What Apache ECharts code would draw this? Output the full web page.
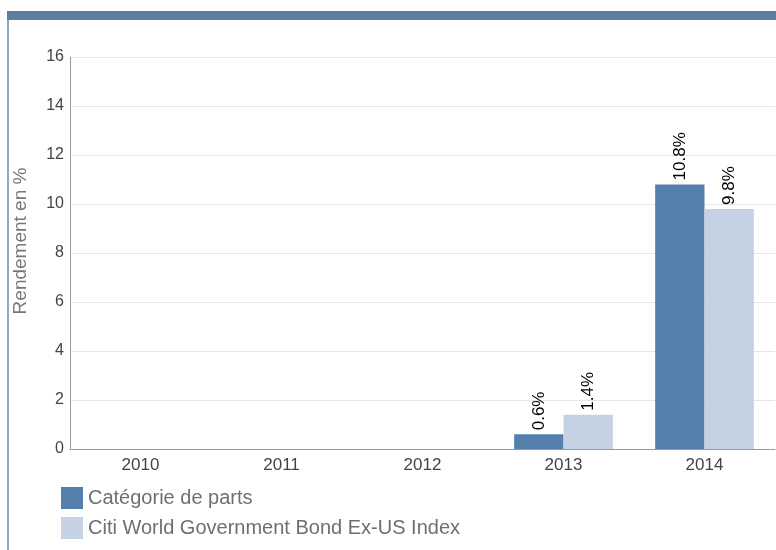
<!DOCTYPE html>
<html>
<head>
<meta charset="utf-8">
<script src="https://cdn.jsdelivr.net/npm/echarts@6/dist/echarts.min.js"></script>
<style>
  html, body { margin: 0; padding: 0; background: #fff; }
  #chart { width: 776px; height: 550px; }
</style>
</head>
<body>
<div id="chart"></div>
<script>
// données du graphique
var years = ['2010', '2011', '2012', '2013', '2014'];
var fundValues = ['-', '-', '-', 0.6, 10.8];
var indexValues = ['-', '-', '-', 1.4, 9.8];
var seriesNames = ['Catégorie de parts', 'Citi World Government Bond Ex-US Index'];

var font = '"Liberation Sans", Arial, sans-serif';

var chart = echarts.init(document.getElementById('chart'));

var barLabel = {
  show: true,
  position: 'top',
  rotate: 90,
  align: 'left',
  verticalAlign: 'middle',
  distance: 4,
  color: '#000',
  fontSize: 17,
  fontFamily: font,
  formatter: function (p) { return p.value.toFixed(1) + '%'; }
};

var option = {
  backgroundColor: '#fff',
  animation: false,
  graphic: [
    { type: 'rect', shape: { x: 7, y: 11, width: 769, height: 9 }, style: { fill: '#5b7fa3' } },
    { type: 'rect', shape: { x: 7, y: 20, width: 2, height: 530 }, style: { fill: '#8fabc4' } }
  ],
  grid: { left: 70, right: 1, top: 57, bottom: 101, outerBoundsMode: 'none' },
  legend: {
    orient: 'vertical',
    left: 61,
    top: 487,
    padding: 0,
    itemWidth: 22,
    itemHeight: 22,
    itemGap: 8,
    icon: 'rect',
    textStyle: { color: '#6b7075', fontSize: 20, fontFamily: font },
    data: seriesNames
  },
  xAxis: {
    type: 'category',
    data: years,
    axisLine: { lineStyle: { color: '#999' } },
    axisTick: { show: false },
    axisLabel: { color: '#444', fontSize: 17, fontFamily: font, margin: 8 }
  },
  yAxis: {
    type: 'value',
    min: 0,
    max: 16,
    interval: 2,
    name: 'Rendement en %',
    nameLocation: 'middle',
    nameGap: 40,
    nameTextStyle: { color: '#777', fontSize: 19, fontFamily: font, padding: [0, 0, 0, 24] },
    axisLine: { show: true, lineStyle: { color: '#999' } },
    axisTick: { show: false },
    axisLabel: { color: '#444', fontSize: 16, fontFamily: font, margin: 6 },
    splitLine: { lineStyle: { color: '#e6e6e6' } }
  },
  series: [
    {
      name: seriesNames[0],
      type: 'bar',
      data: fundValues,
      barGap: '0%',
      barCategoryGap: '30%',
      itemStyle: { color: '#5580ae' },
      label: barLabel
    },
    {
      name: seriesNames[1],
      type: 'bar',
      data: indexValues,
      itemStyle: { color: '#c5d2e3' },
      label: barLabel
    }
  ]
};

chart.setOption(option);
</script>
</body>
</html>
